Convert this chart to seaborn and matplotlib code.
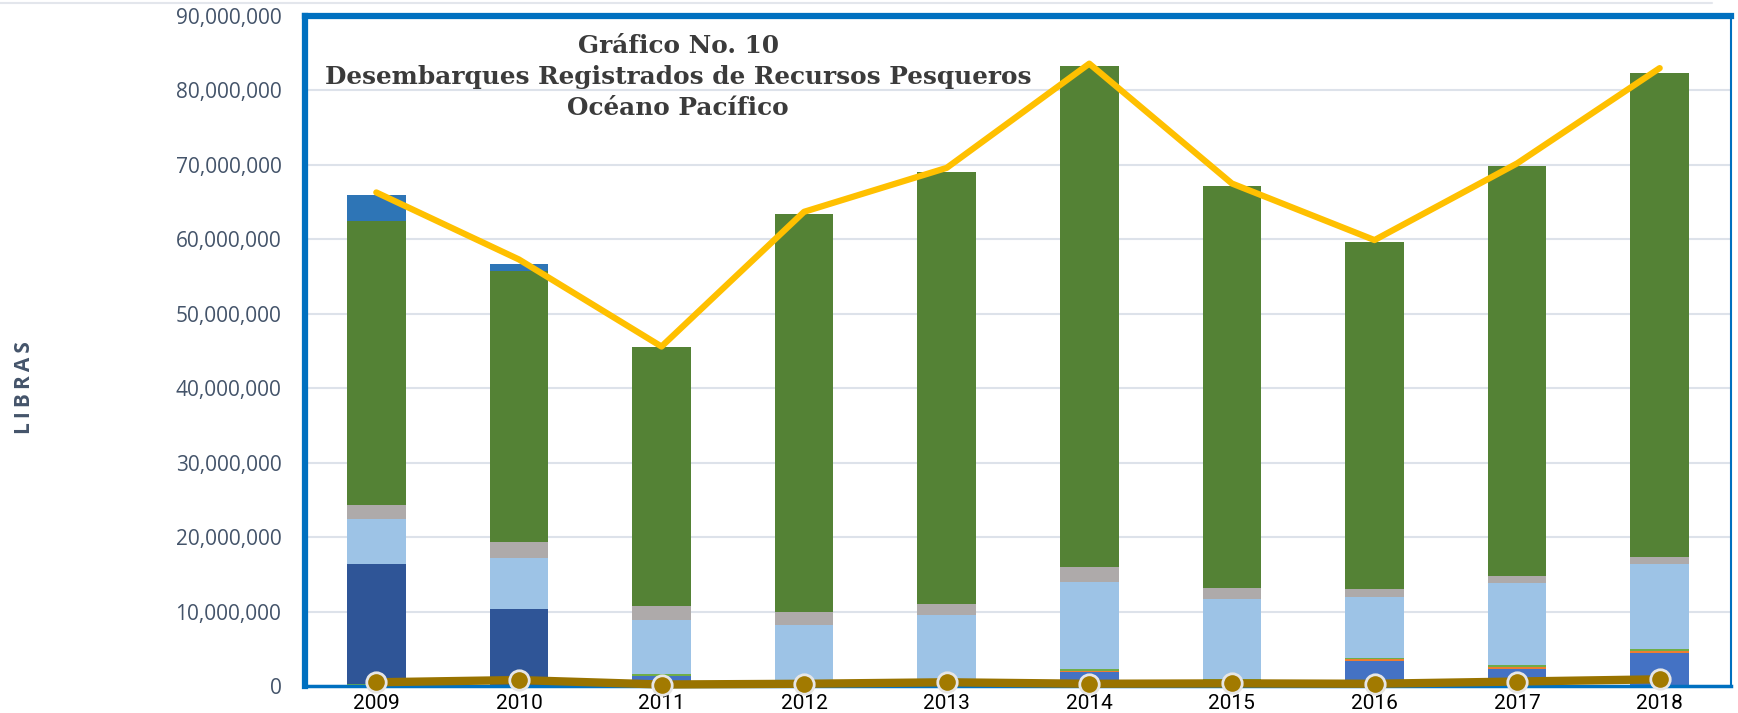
import numpy as np
import pandas as pd
import matplotlib
matplotlib.use("Agg")
import matplotlib.pyplot as plt
from matplotlib.lines import Line2D
import seaborn as sns

# Datos (millones de libras)
years = ["2009", "2010", "2011", "2012", "2013", "2014", "2015", "2016", "2017", "2018"]
verde_base   = [0.3, 0, 0, 0, 0, 0, 0, 0, 0, 0]
azul_oscuro  = [16.1, 10.4, 0, 0, 0, 0, 0, 0, 0, 0]
azul         = [0, 0, 1.4, 0.2, 0.3, 1.9, 0.5, 3.4, 2.3, 4.4]
naranja      = [0, 0, 0, 0, 0, 0.15, 0.2, 0.25, 0.25, 0.25]
verde_claro  = [0, 0, 0.2, 0.4, 0.5, 0.3, 0.3, 0.1, 0.25, 0.3]
celeste      = [6.0, 6.8, 7.2, 7.6, 8.7, 11.65, 10.7, 8.2, 11.0, 11.45]
gris         = [1.9, 2.1, 2.0, 1.7, 1.5, 2.0, 1.4, 1.05, 1.0, 0.9]
verde_oscuro = [38.1, 36.4, 34.7, 53.5, 58.0, 67.3, 54.1, 46.7, 55.0, 65.0]
azul_sup     = [3.6, 1.0, 0, 0, 0, 0, 0, 0, 0, 0]
total_linea  = [66.3, 57.3, 45.6, 63.7, 69.6, 83.6, 67.5, 59.9, 70.2, 83.0]
otros_linea  = [0.5, 0.8, 0.2, 0.3, 0.5, 0.3, 0.35, 0.3, 0.6, 0.9]

series = {
    "verde_base": (verde_base, "#70AD47"),
    "azul_oscuro": (azul_oscuro, "#2F5597"),
    "azul": (azul, "#4472C4"),
    "naranja": (naranja, "#ED7D31"),
    "verde_claro": (verde_claro, "#70AD47"),
    "celeste": (celeste, "#9DC3E6"),
    "gris": (gris, "#AEAAAA"),
    "verde_oscuro": (verde_oscuro, "#548235"),
    "azul_sup": (azul_sup, "#2E75B6"),
}

df = pd.DataFrame({k: np.array(v[0]) * 1e6 for k, v in series.items()}, index=years)
base = df.cumsum(axis=1) - df

sns.set_style("white")
plt.rcParams["font.family"] = ["DejaVu Sans"]

fig = plt.figure(figsize=(17.38, 7.13), dpi=100)
ax = fig.add_axes([305 / 1738, 1 - 686 / 713, 1426 / 1738, (686 - 16) / 713])

# barras apiladas
for name in series:
    sns.barplot(x=years, y=df[name].values, bottom=base[name].values,
                color=series[name][1], width=0.41, saturation=1, linewidth=0,
                edgecolor="none", ax=ax, zorder=2)

pos = np.arange(len(years))
sns.lineplot(x=pos, y=np.array(total_linea) * 1e6, color="#FFC000", lw=4.5,
             solid_capstyle="round", ax=ax, zorder=4)
sns.lineplot(x=pos, y=np.array(otros_linea) * 1e6, color="#997300", lw=6,
             marker="o", markersize=14, markerfacecolor="#A27A00",
             markeredgecolor="#E6E6E6", markeredgewidth=2, clip_on=False,
             ax=ax, zorder=5)

ax.set_xlim(-0.5, 9.5)
ax.set_ylim(0, 90e6)
ax.set_yticks(np.arange(0, 90e6 + 1, 10e6))
ax.yaxis.set_major_formatter(matplotlib.ticker.FuncFormatter(lambda v, p: f"{v:,.0f}"))
ax.yaxis.grid(True, color="#DDE2EA", lw=1.5)
ax.set_axisbelow(True)
ax.set_xlabel("")
ax.set_ylabel("")

ax.tick_params(axis="y", length=0, pad=17, labelsize=15, labelcolor="#44546A")
for lab in ax.get_yticklabels():
    lab.set_fontfamily("Open Sans")
ax.tick_params(axis="x", which="major", length=0, pad=6, labelsize=15, labelcolor="#000000")
for lab in ax.get_xticklabels():
    lab.set_fontfamily("Roboto")
ax.set_xticks(np.arange(-0.5, 10, 1), minor=True)
ax.tick_params(axis="x", which="minor", length=20, width=1.5, color="#D9D9D9")

for side, lw in [("left", 4.5), ("top", 4.5), ("right", 1.5), ("bottom", 2.5)]:
    ax.spines[side].set_visible(True)
    ax.spines[side].set_color("#0070C0")
    ax.spines[side].set_linewidth(lw)

fig.text(678 / 1738, 1 - 77 / 713,
         "Gráfico No. 10\nDesembarques Registrados de Recursos Pesqueros\nOcéano Pacífico",
         ha="center", va="center", fontsize=17.8, fontweight="bold",
         family="DejaVu Serif", color="#3B3B3B", linespacing=1.37)

fig.text(25 / 1738, 1 - 388 / 713, "L\u2009I\u2009B\u2009R\u2009A\u2009S", rotation=90,
         ha="center", va="center", fontsize=15, fontweight="bold",
         family=["Open Sans", "DejaVu Sans"], color="#44546A")

fig.add_artist(Line2D([0, 0.985], [1 - 3 / 713, 1 - 3 / 713], color="#E3E6EC", lw=1.5,
                      transform=fig.transFigure))

fig.savefig("out.png", dpi=100)
